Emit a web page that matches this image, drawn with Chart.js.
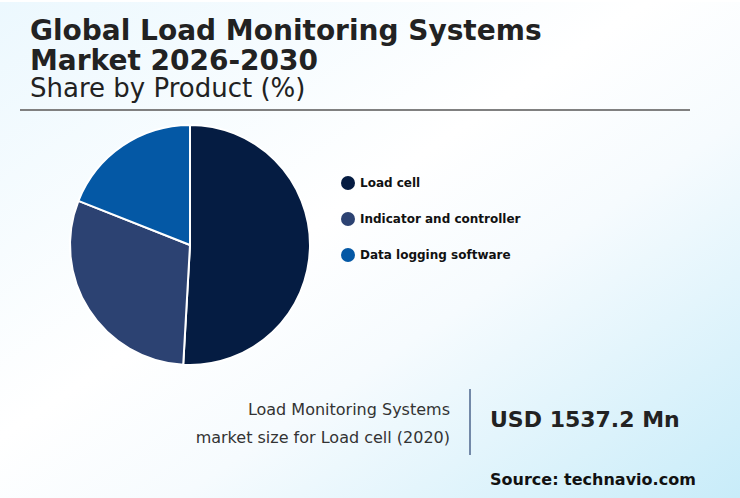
<!DOCTYPE html>
<html>
<head>
<meta charset="utf-8">
<script src="https://cdn.jsdelivr.net/npm/chart.js@4"></script>
<style>
  html, body { margin: 0; padding: 0; }
  body { width: 740px; height: 498px; overflow: hidden; font-family: "DejaVu Sans", sans-serif; color: #222; }
  #page { position: relative; width: 740px; height: 498px; overflow: hidden;
    background: linear-gradient(to bottom right, #ecf8fe 0%, #ffffff 44%, #f6fbfe 62%, #c8ecf9 100%); }
  #page > * { position: absolute; white-space: nowrap; }
  #topline { left: 0; top: 0; width: 740px; height: 2px; background: #ffffff; }
  #title { left: 30px; top: 16px; font-size: 28px; font-weight: bold; line-height: 30px; }
  #subtitle { left: 30px; top: 77px; font-size: 26px; line-height: 22px; }
  #rule { left: 20px; top: 109px; width: 670px; height: 2px; background: #808080; }
  #pie-wrap { left: 60px; top: 115px; width: 260px; height: 260px; }
  #legend { left: 341px; top: 165px; }
  .leg { position: absolute; left: 0; height: 36px; display: flex; align-items: center; font-size: 12px; font-weight: bold; color: #111; white-space: nowrap; }
  .dot { width: 14px; height: 14px; border-radius: 50%; margin-right: 5px; }
  #size-label { right: 290px; top: 396px; text-align: right; font-size: 16px; line-height: 28px; color: #333; }
  #divider { left: 469px; top: 389px; width: 2px; height: 66px; background: #7389a8; }
  #size-value { left: 490px; top: 405px; font-size: 22px; font-weight: bold; line-height: 30px; }
  #source { left: 490px; top: 470px; font-size: 16px; font-weight: bold; line-height: 20px; color: #111; }
</style>
</head>
<body>
<div id="page">
  <div id="topline"></div>
  <div id="title">Global Load Monitoring Systems<br>Market 2026-2030</div>
  <div id="subtitle">Share by Product (%)</div>
  <div id="rule"></div>
  <div id="pie-wrap"><canvas id="pie" width="260" height="260"></canvas></div>
  <div id="legend"></div>
  <div id="size-label">Load Monitoring Systems<br>market size for Load cell (2020)</div>
  <div id="divider"></div>
  <div id="size-value">USD 1537.2 Mn</div>
  <div id="source">Source: technavio.com</div>
</div>
<script>
// --- DATA ---
const products = ['Load cell', 'Indicator and controller', 'Data logging software'];
const shares = [50.9, 30.1, 19.0];
const colors = ['#051c42', '#2c4272', '#0458a5'];

// legend
const legend = document.getElementById('legend');
products.forEach((p, i) => {
    const row = document.createElement('div');
    row.className = 'leg';
    row.style.top = (i * 36) + 'px';
    row.innerHTML = `<span class="dot" style="background:${colors[i]}"></span>${p}`;
    legend.appendChild(row);
});

new Chart(document.getElementById('pie'), {
    type: 'pie',
    data: {
        labels: products,
        datasets: [{ data: shares, backgroundColor: colors, borderColor: '#ffffff', borderWidth: 2 }]
    },
    options: {
        responsive: false,
        animation: false,
        radius: 120,
        layout: { padding: 0 },
        plugins: { legend: { display: false }, tooltip: { enabled: false } }
    }
});
</script>
</body>
</html>
